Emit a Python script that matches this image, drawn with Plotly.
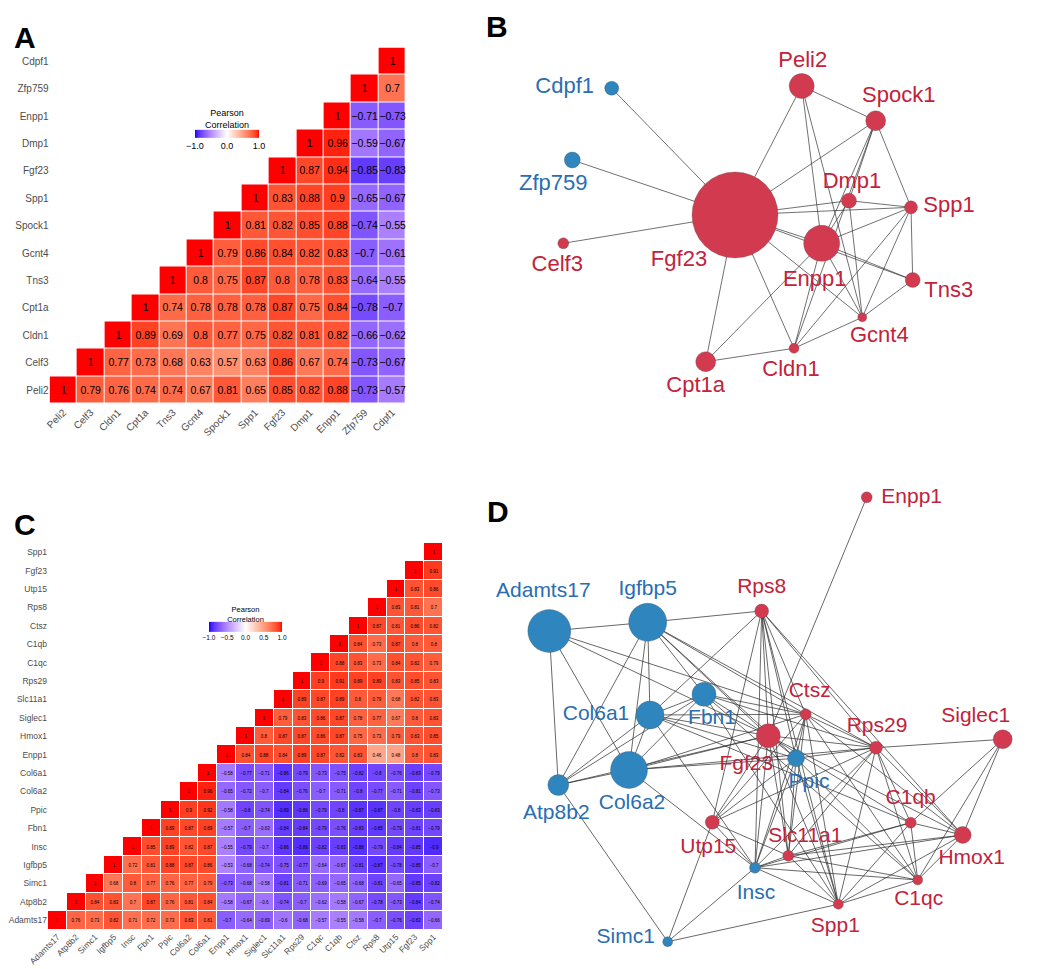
import plotly.graph_objects as go

W, H = 1050, 969

# ---------------- Panel A: correlation matrix (13 genes) ----------------
A_genes = ["Peli2", "Celf3", "Cldn1", "Cpt1a", "Tns3", "Gcnt4", "Spock1",
           "Spp1", "Fgf23", "Dmp1", "Enpp1", "Zfp759", "Cdpf1"]
# each row starts at its diagonal cell and runs to the right edge
a_Cdpf1 = [1]
a_Zfp759 = [1, 0.7]
a_Enpp1 = [1, -0.71, -0.73]
a_Dmp1 = [1, 0.96, -0.59, -0.67]
a_Fgf23 = [1, 0.87, 0.94, -0.85, -0.83]
a_Spp1 = [1, 0.83, 0.88, 0.9, -0.65, -0.67]
a_Spock1 = [1, 0.81, 0.82, 0.85, 0.88, -0.74, -0.55]
a_Gcnt4 = [1, 0.79, 0.86, 0.84, 0.82, 0.83, -0.7, -0.61]
a_Tns3 = [1, 0.8, 0.75, 0.87, 0.8, 0.78, 0.83, -0.64, -0.55]
a_Cpt1a = [1, 0.74, 0.78, 0.78, 0.78, 0.87, 0.75, 0.84, -0.78, -0.7]
a_Cldn1 = [1, 0.89, 0.69, 0.8, 0.77, 0.75, 0.82, 0.81, 0.82, -0.66, -0.62]
a_Celf3 = [1, 0.77, 0.73, 0.68, 0.63, 0.57, 0.63, 0.86, 0.67, 0.74, -0.73, -0.67]
a_Peli2 = [1, 0.79, 0.76, 0.74, 0.74, 0.67, 0.81, 0.65, 0.85, 0.82, 0.88, -0.73, -0.57]
A_rows = [a_Cdpf1, a_Zfp759, a_Enpp1, a_Dmp1, a_Fgf23, a_Spp1, a_Spock1,
          a_Gcnt4, a_Tns3, a_Cpt1a, a_Cldn1, a_Celf3, a_Peli2]

# ---------------- Panel C: correlation matrix (21 genes) ----------------
C_genes = ["Adamts17", "Atp8b2", "Simc1", "Igfbp5", "Insc", "Fbn1", "Ppic",
           "Col6a2", "Col6a1", "Enpp1", "Hmox1", "Siglec1", "Slc11a1", "Rps29",
           "C1qc", "C1qb", "Ctsz", "Rps8", "Utp15", "Fgf23", "Spp1"]
c_Spp1 = [1]
c_Fgf23 = [1, 0.91]
c_Utp15 = [1, 0.83, 0.86]
c_Rps8 = [1, 0.83, 0.81, 0.7]
c_Ctsz = [1, 0.87, 0.81, 0.86, 0.82]
c_C1qb = [1, 0.84, 0.73, 0.87, 0.8, 0.8]
c_C1qc = [1, 0.88, 0.83, 0.73, 0.84, 0.82, 0.79]
c_Rps29 = [1, 0.9, 0.91, 0.89, 0.89, 0.83, 0.85, 0.83]
c_Slc11a1 = [1, 0.89, 0.87, 0.89, 0.8, 0.79, 0.68, 0.82, 0.83]
c_Siglec1 = [1, 0.79, 0.83, 0.86, 0.87, 0.78, 0.77, 0.67, 0.8, 0.83]
c_Hmox1 = [1, 0.8, 0.87, 0.87, 0.86, 0.87, 0.75, 0.73, 0.79, 0.83, 0.85]
c_Enpp1 = [1, 0.84, 0.88, 0.84, 0.89, 0.87, 0.82, 0.83, 0.46, 0.48, 0.8, 0.83]
c_Col6a1 = [1, -0.58, -0.77, -0.71, -0.86, -0.79, -0.73, -0.75, -0.82, -0.8,
            -0.76, -0.83, -0.79]
c_Col6a2 = [1, 0.96, -0.65, -0.72, -0.7, -0.84, -0.76, -0.7, -0.71, -0.8,
            -0.77, -0.71, -0.81, -0.73]
c_Ppic = [1, 0.9, 0.92, -0.58, -0.8, -0.74, -0.89, -0.86, -0.79, -0.8, -0.87,
          -0.87, -0.8, -0.83, -0.83]
c_Fbn1 = [1, 0.89, 0.87, 0.89, -0.57, -0.7, -0.63, -0.84, -0.84, -0.79, -0.76,
          -0.83, -0.85, -0.79, -0.81, -0.79]
c_Insc = [1, 0.85, 0.89, 0.82, 0.87, -0.55, -0.79, -0.7, -0.86, -0.89, -0.82,
          -0.83, -0.88, -0.79, -0.84, -0.85, -0.9]
c_Igfbp5 = [1, 0.72, 0.81, 0.88, 0.87, 0.86, -0.53, -0.68, -0.74, -0.75, -0.77,
            -0.64, -0.67, -0.81, -0.87, -0.78, -0.85, -0.7]
c_Simc1 = [1, 0.68, 0.8, 0.77, 0.76, 0.77, 0.79, -0.73, -0.68, -0.58, -0.81,
           -0.71, -0.69, -0.65, -0.68, -0.81, -0.65, -0.85, -0.82]
c_Atp8b2 = [1, 0.84, 0.83, 0.7, 0.87, 0.76, 0.81, 0.84, -0.58, -0.67, -0.6,
            -0.74, -0.7, -0.62, -0.58, -0.67, -0.78, -0.73, -0.84, -0.74]
c_Adamts17 = [1, 0.76, 0.73, 0.82, 0.71, 0.72, 0.73, 0.83, 0.81, -0.7, -0.64,
              -0.69, -0.6, -0.68, -0.57, -0.55, -0.58, -0.7, -0.76, -0.82, -0.66]
C_rows = [c_Spp1, c_Fgf23, c_Utp15, c_Rps8, c_Ctsz, c_C1qb, c_C1qc, c_Rps29,
          c_Slc11a1, c_Siglec1, c_Hmox1, c_Enpp1, c_Col6a1, c_Col6a2, c_Ppic,
          c_Fbn1, c_Insc, c_Igfbp5, c_Simc1, c_Atp8b2, c_Adamts17]

# ---------------- Panel B: network ----------------
B_nodes = ["Cdpf1", "Zfp759", "Celf3", "Fgf23", "Peli2", "Spock1", "Dmp1",
           "Spp1", "Enpp1", "Tns3", "Gcnt4", "Cldn1", "Cpt1a"]
B_x = [611.7, 572.3, 563.3, 735.0, 801.7, 875.7, 849.0, 911.0, 821.7, 912.7, 862.3, 794.0, 705.7]
B_y = [88.3, 160.0, 243.3, 215.0, 86.0, 120.7, 200.7, 207.3, 243.3, 280.0, 317.3, 348.3, 361.7]
B_weight = [14, 16, 11, 86, 25, 20, 15, 13, 36, 15, 9, 10, 20]
B_sign = ["neg", "neg", "pos", "pos", "pos", "pos", "pos", "pos", "pos", "pos", "pos", "pos", "pos"]
B_edges = [("Cdpf1", "Fgf23"), ("Zfp759", "Fgf23"), ("Celf3", "Fgf23"),
           ("Fgf23", "Peli2"), ("Fgf23", "Spock1"), ("Fgf23", "Dmp1"),
           ("Fgf23", "Spp1"), ("Fgf23", "Enpp1"), ("Fgf23", "Tns3"),
           ("Fgf23", "Gcnt4"), ("Fgf23", "Cldn1"), ("Fgf23", "Cpt1a"),
           ("Peli2", "Spock1"), ("Peli2", "Enpp1"), ("Peli2", "Gcnt4"),
           ("Spock1", "Dmp1"), ("Spock1", "Enpp1"), ("Spock1", "Cldn1"),
           ("Spock1", "Spp1"), ("Dmp1", "Spp1"), ("Dmp1", "Enpp1"),
           ("Dmp1", "Gcnt4"), ("Spp1", "Enpp1"), ("Spp1", "Tns3"),
           ("Spp1", "Gcnt4"), ("Spp1", "Cldn1"), ("Enpp1", "Tns3"),
           ("Enpp1", "Gcnt4"), ("Enpp1", "Cpt1a"), ("Enpp1", "Cldn1"),
           ("Tns3", "Gcnt4"), ("Gcnt4", "Cldn1"), ("Cldn1", "Cpt1a")]

# ---------------- Panel D: network ----------------
D_nodes = ["Enpp1", "Adamts17", "Igfbp5", "Rps8", "Fbn1", "Col6a1", "Ctsz",
           "Fgf23", "Ppic", "Rps29", "Siglec1", "Col6a2", "Atp8b2", "Utp15",
           "C1qb", "Hmox1", "Slc11a1", "Insc", "C1qc", "Spp1", "Simc1"]
D_x = [866.7, 549.3, 647.7, 761.7, 704.0, 650.0, 805.7, 768.3, 796.0, 876.0,
       1002.7, 629.0, 558.3, 712.3, 910.7, 962.7, 788.3, 755.0, 917.7, 838.3, 667.7]
D_y = [497.3, 631.0, 622.3, 611.0, 694.3, 715.0, 714.3, 735.7, 758.3, 747.7,
       739.3, 770.0, 785.0, 822.3, 822.7, 835.0, 855.7, 867.7, 880.0, 904.3, 941.7]
D_weight = [11, 43, 38, 14, 24, 28, 11, 24, 17, 13, 19, 37, 21, 14, 11, 17, 11, 11, 10, 10, 10]
D_sign = ["pos", "neg", "neg", "pos", "neg", "neg", "pos", "pos", "neg", "pos",
          "pos", "neg", "neg", "pos", "pos", "pos", "pos", "neg", "pos", "pos", "neg"]
D_edges = [("Enpp1", "Fgf23"),
           ("Adamts17", "Igfbp5"), ("Adamts17", "Col6a2"), ("Adamts17", "Ctsz"),
           ("Adamts17", "Fgf23"), ("Adamts17", "Atp8b2"),
           ("Igfbp5", "Rps8"), ("Igfbp5", "Col6a1"), ("Igfbp5", "Col6a2"),
           ("Igfbp5", "Atp8b2"), ("Igfbp5", "Fgf23"), ("Igfbp5", "Ppic"),
           ("Igfbp5", "Rps29"), ("Igfbp5", "Ctsz"), ("Igfbp5", "Fbn1"),
           ("Rps8", "Col6a1"), ("Rps8", "Fgf23"), ("Rps8", "Ppic"), ("Rps8", "Ctsz"),
           ("Rps8", "Rps29"), ("Rps8", "Slc11a1"), ("Rps8", "Utp15"), ("Rps8", "Insc"),
           ("Rps8", "Hmox1"), ("Rps8", "Spp1"),
           ("Fbn1", "Col6a1"), ("Fbn1", "Col6a2"), ("Fbn1", "Atp8b2"), ("Fbn1", "Ctsz"),
           ("Fbn1", "Fgf23"), ("Fbn1", "Rps29"), ("Fbn1", "Spp1"), ("Fbn1", "C1qc"),
           ("Col6a1", "Col6a2"), ("Col6a1", "Atp8b2"), ("Col6a1", "Fgf23"),
           ("Col6a1", "Ctsz"), ("Col6a1", "Insc"), ("Col6a1", "Ppic"), ("Col6a1", "C1qb"),
           ("Col6a2", "Atp8b2"), ("Col6a2", "Fgf23"), ("Col6a2", "Ppic"),
           ("Col6a2", "Rps29"), ("Col6a2", "Insc"), ("Col6a2", "Ctsz"),
           ("Atp8b2", "Simc1"), ("Atp8b2", "Fgf23"),
           ("Ctsz", "Ppic"), ("Ctsz", "Rps29"), ("Ctsz", "Slc11a1"), ("Ctsz", "Insc"),
           ("Ctsz", "Utp15"), ("Ctsz", "Spp1"), ("Ctsz", "C1qc"), ("Ctsz", "Hmox1"),
           ("Fgf23", "Ppic"), ("Fgf23", "Rps29"), ("Fgf23", "Utp15"), ("Fgf23", "Insc"),
           ("Fgf23", "Slc11a1"), ("Fgf23", "C1qb"), ("Fgf23", "Hmox1"), ("Fgf23", "Spp1"),
           ("Ppic", "Rps29"), ("Ppic", "Insc"), ("Ppic", "Slc11a1"), ("Ppic", "C1qc"),
           ("Ppic", "Utp15"), ("Ppic", "Spp1"),
           ("Rps29", "Siglec1"), ("Rps29", "C1qb"), ("Rps29", "C1qc"), ("Rps29", "Slc11a1"),
           ("Rps29", "Insc"), ("Rps29", "Utp15"), ("Rps29", "Spp1"), ("Rps29", "Hmox1"),
           ("Siglec1", "C1qb"), ("Siglec1", "Hmox1"), ("Siglec1", "C1qc"),
           ("C1qb", "Slc11a1"), ("C1qb", "Insc"), ("C1qb", "C1qc"), ("C1qb", "Hmox1"),
           ("C1qb", "Spp1"),
           ("Hmox1", "Slc11a1"), ("Hmox1", "Insc"), ("Hmox1", "C1qc"), ("Hmox1", "Spp1"),
           ("Slc11a1", "Insc"), ("Slc11a1", "Spp1"), ("Slc11a1", "C1qc"),
           ("Insc", "C1qc"), ("Insc", "Spp1"), ("Insc", "Utp15"),
           ("Utp15", "Simc1"), ("Utp15", "Slc11a1"),
           ("Simc1", "Spp1"), ("Simc1", "Insc"),
           ("C1qc", "Spp1")]

# ---------------- styling ----------------
FONT = "Liberation Sans, Arial, Helvetica, sans-serif"
AXIS_GREY = "#4d4d4d"
NODE_RED, NODE_BLUE = "#d23b4f", "#2f86bf"
TEXT_RED, TEXT_BLUE = "#c2223a", "#2a6db1"

B_label_offset = {"Cdpf1": (-47, -1), "Zfp759": (-19, 24), "Celf3": (-6, 22),
                  "Fgf23": (-56, 45), "Peli2": (1, -25), "Spock1": (23, -24),
                  "Dmp1": (3, -18), "Spp1": (38, -1), "Enpp1": (-7, 37),
                  "Tns3": (36, 11), "Gcnt4": (17, 19), "Cldn1": (-3, 22),
                  "Cpt1a": (-10, 25)}
D_label_offset = {"Enpp1": (45, 0), "Adamts17": (-6, -39), "Igfbp5": (0, -33),
                  "Rps8": (0, -23), "Fbn1": (8, 24), "Col6a1": (-54, 0),
                  "Ctsz": (4, -23), "Fgf23": (-22, 29), "Ppic": (13, 24),
                  "Rps29": (1, -21), "Siglec1": (-27, -23), "Col6a2": (3, 34),
                  "Atp8b2": (-2, 29), "Utp15": (-4, 25), "C1qb": (0, -24),
                  "Hmox1": (9, 24), "Slc11a1": (17, -19), "Insc": (1, 26),
                  "C1qc": (1, 20), "Spp1": (-3, 22), "Simc1": (-42, -4)}


# blue-white-red gradient interpolated in CIELAB (like ggplot's gradient2)
def lab_to_rgb(L, a, b):
    fy = (L + 16) / 116
    fx = fy + a / 500
    fz = fy - b / 200

    def finv(t):
        return t ** 3 if t ** 3 > 0.008856 else (t - 16 / 116) / 7.787
    X, Y, Z = 0.95047 * finv(fx), finv(fy), 1.08883 * finv(fz)
    r = 3.2406 * X - 1.5372 * Y - 0.4986 * Z
    g = -0.9689 * X + 1.8758 * Y + 0.0415 * Z
    bb = 0.0557 * X - 0.2040 * Y + 1.0570 * Z

    def gam(c):
        c = max(0.0, min(1.0, c))
        return 12.92 * c if c <= 0.0031308 else 1.055 * c ** (1 / 2.4) - 0.055
    return "rgb(%d,%d,%d)" % tuple(round(255 * gam(c)) for c in (r, g, bb))


LAB_BLUE, LAB_WHITE, LAB_RED = (32.30, 79.19, -107.86), (100, 0, 0), (53.24, 80.09, 67.20)
colorscale = []
N = 40
for k in range(N + 1):
    v = -1 + 2 * k / N
    end = LAB_BLUE if v < 0 else LAB_RED
    t = abs(v)
    lab = [LAB_WHITE[i] + (end[i] - LAB_WHITE[i]) * t for i in range(3)]
    colorscale.append([k / N, lab_to_rgb(*lab)])


def tri(rows, n):
    z, txt = [], []
    for i, r in enumerate(rows):
        start = n - 1 - i
        zr, tr = [], []
        for j in range(n):
            if j >= start:
                v = r[j - start]
                zr.append(v)
                tr.append(("%g" % v).replace("-", "\u2212"))
            else:
                zr.append(None)
                tr.append("")
        z.append(zr)
        txt.append(tr)
    return z, txt


def xdom(a, b):
    return [a / W, b / W]


def ydom(top, bottom):
    return [1 - bottom / H, 1 - top / H]


fig = go.Figure()

# ---- heatmap A ----
nA = len(A_genes)
zA, tA = tri(A_rows, nA)
fig.add_trace(go.Heatmap(
    z=zA, x=list(range(nA)), y=list(range(nA)), text=tA, texttemplate="%{text}",
    textfont=dict(size=10.5, color="black", family=FONT),
    colorscale=colorscale, zmin=-1, zmax=1, xgap=1, ygap=1, hoverinfo="skip",
    xaxis="x", yaxis="y",
    colorbar=dict(orientation="h", x=227 / W, xanchor="center", y=1 - 128 / H,
                  yanchor="middle", len=64, lenmode="pixels", thickness=8,
                  xpad=0, ypad=0, outlinewidth=0, ticks="",
                  tickvals=[-1, 0, 1], ticktext=["\u22121.0", "0.0", "1.0"],
                  tickfont=dict(size=9, color="black", family=FONT),
                  title=dict(text="Pearson<br>Correlation", side="top",
                             font=dict(size=9, color="black", family=FONT)))))

# ---- heatmap C ----
nC = len(C_genes)
zC, tC = tri(C_rows, nC)
fig.add_trace(go.Heatmap(
    z=zC, x=list(range(nC)), y=list(range(nC)), text=tC, texttemplate="%{text}",
    textfont=dict(size=4.5, color="black", family=FONT),
    colorscale=colorscale, zmin=-1, zmax=1, xgap=1, ygap=1, hoverinfo="skip",
    xaxis="x3", yaxis="y3",
    colorbar=dict(orientation="h", x=245.5 / W, xanchor="center", y=1 - 621 / H,
                  yanchor="middle", len=73, lenmode="pixels", thickness=10,
                  xpad=0, ypad=0, outlinewidth=0, ticks="",
                  tickvals=[-1, -0.5, 0, 0.5, 1],
                  ticktext=["\u22121.0", "\u22120.5", "0.0", "0.5", "1.0"],
                  tickfont=dict(size=6.5, color="black", family=FONT),
                  title=dict(text="Pearson<br>Correlation", side="top",
                             font=dict(size=7.5, color="black", family=FONT)))))


# ---- networks ----
def add_network(nodes, xs, ys, weights, signs, edges, offsets, xa, ya, lw, fsize):
    pos = {n: (xs[i], ys[i]) for i, n in enumerate(nodes)}
    ex, ey = [], []
    for a, b in edges:
        ex += [pos[a][0], pos[b][0], None]
        ey += [pos[a][1], pos[b][1], None]
    fig.add_trace(go.Scatter(x=ex, y=ey, mode="lines", xaxis=xa, yaxis=ya,
                             line=dict(color="rgba(45,45,45,0.85)", width=lw),
                             hoverinfo="skip", showlegend=False))
    fig.add_trace(go.Scatter(
        x=xs, y=ys, mode="markers", xaxis=xa, yaxis=ya, hoverinfo="skip",
        showlegend=False,
        marker=dict(size=weights, opacity=1,
                    color=[NODE_BLUE if s == "neg" else NODE_RED for s in signs],
                    line=dict(width=0.6, color="rgba(70,70,70,0.5)"))))
    fig.add_trace(go.Scatter(
        x=[xs[i] + offsets[n][0] for i, n in enumerate(nodes)],
        y=[ys[i] + offsets[n][1] for i, n in enumerate(nodes)],
        mode="text", text=nodes, textposition="middle center",
        xaxis=xa, yaxis=ya, hoverinfo="skip", showlegend=False, cliponaxis=False,
        textfont=dict(size=fsize, family=FONT,
                      color=[TEXT_BLUE if s == "neg" else TEXT_RED for s in signs])))


add_network(B_nodes, B_x, B_y, B_weight, B_sign, B_edges, B_label_offset, "x2", "y2", 0.8, 22)
add_network(D_nodes, D_x, D_y, D_weight, D_sign, D_edges, D_label_offset, "x4", "y4", 0.85, 21)

hide = dict(visible=False, showgrid=False, zeroline=False)
heat_ax = dict(showgrid=False, zeroline=False, showline=False, ticks="",
               color=AXIS_GREY, automargin=False)

fig.update_layout(
    width=W, height=H,
    margin=dict(l=0, r=0, t=0, b=0, pad=0, autoexpand=False),
    paper_bgcolor="white", plot_bgcolor="white", showlegend=False,
    font=dict(family=FONT),
    xaxis=dict(heat_ax, domain=xdom(49.6, 405.8), range=[-0.5, nA - 0.5], anchor="y",
               tickvals=list(range(nA)), ticktext=A_genes, tickangle=-45,
               tickfont=dict(size=10, color=AXIS_GREY, family=FONT)),
    yaxis=dict(heat_ax, domain=ydom(47.5, 403.7), range=[nA - 0.5, -0.5], anchor="x",
               tickvals=list(range(nA)), ticktext=A_genes[::-1],
               tickfont=dict(size=10, color=AXIS_GREY, family=FONT)),
    xaxis3=dict(heat_ax, domain=xdom(48, 443), range=[-0.5, nC - 0.5], anchor="y3",
                tickvals=list(range(nC)), ticktext=C_genes, tickangle=-45,
                tickfont=dict(size=8.5, color=AXIS_GREY, family=FONT)),
    yaxis3=dict(heat_ax, domain=ydom(543, 929.5), range=[nC - 0.5, -0.5], anchor="x3",
                tickvals=list(range(nC)), ticktext=C_genes[::-1],
                tickfont=dict(size=8.5, color=AXIS_GREY, family=FONT)),
    xaxis2=dict(hide, domain=xdom(480, 1050), range=[480, 1050], anchor="y2"),
    yaxis2=dict(hide, domain=ydom(0, 450), range=[450, 0], anchor="x2"),
    xaxis4=dict(hide, domain=xdom(480, 1050), range=[480, 1050], anchor="y4"),
    yaxis4=dict(hide, domain=ydom(460, 969), range=[969, 460], anchor="x4"),
)

for letter, px, py in [("A", 25, 37), ("B", 497, 26), ("C", 25, 524), ("D", 498, 512)]:
    fig.add_annotation(text="<b>%s</b>" % letter, x=px / W, y=1 - py / H,
                       xref="paper", yref="paper", showarrow=False,
                       xanchor="center", yanchor="middle",
                       font=dict(size=30, color="black", family=FONT))

fig.write_html("out.html", config={"displayModeBar": False},
               post_script="document.body.style.margin='0px';"
                           "document.body.style.overflow='hidden';")
